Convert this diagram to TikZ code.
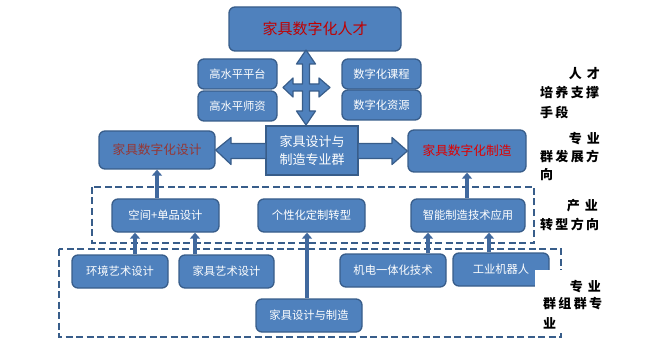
\documentclass[tikz,border=0pt]{standalone}
\usepackage{fontspec}
\setmainfont{Noto Sans CJK SC}
\usetikzlibrary{arrows.meta}
\definecolor{boxfill}{HTML}{4F81BD}
\definecolor{boxline}{HTML}{385D8A}
\definecolor{arrowc}{HTML}{41699E}
\definecolor{titlered}{HTML}{C00000}
\definecolor{designred}{HTML}{953735}
\definecolor{manufred}{HTML}{E00000}
\newcommand{\gp}{\hspace{2.3pt}}
\begin{document}
\begin{tikzpicture}[x=1pt,y=-1pt,
  box/.style={draw=boxline, line width=1.3pt, fill=boxfill, rounded corners=6pt,
    text=white, inner sep=0pt, font=\fontsize{11.3}{13}\selectfont},
  upconn/.style={draw=arrowc, line width=4pt, -{Triangle[width=10pt,length=6pt]}},
  blockarrow/.style={fill=boxfill, draw=boxline, line width=1.2pt, line join=round},
  dashbox/.style={draw=boxline, line width=1.8pt, dash pattern=on 7pt off 3.5pt},
  sidelabel/.style={inner sep=0pt, font=\fontsize{13}{15}\selectfont\bfseries, text=black}
]
\useasboundingbox (0,0) rectangle (668,347);

% dashed group frames
\draw[dashbox] (92,187) rectangle (534,243);
\draw[dashbox] (59,249) rectangle (561,337);

% boxes
\node[box, minimum width=172pt, minimum height=44pt, font=\fontsize{15}{17}\selectfont, text=titlered] (talent) at (315,29) {家具数字化人才};
\node[box, minimum width=79pt, minimum height=30pt] (p1) at (237.5,74) {高水平平台};
\node[box, minimum width=79pt, minimum height=30pt] (p2) at (237.5,106) {高水平师资};
\node[box, minimum width=79pt, minimum height=30pt] (c1) at (381.5,74) {数字化课程};
\node[box, minimum width=79pt, minimum height=30pt] (c2) at (381.5,105) {数字化资源};
\node[box, minimum width=116pt, minimum height=38pt, font=\fontsize{12.7}{15}\selectfont, text=designred] (design) at (157,150) {家具数字化设计};
\node[box, rounded corners=0pt, minimum width=92pt, minimum height=49pt, align=center, font=\fontsize{13}{18}\selectfont] (group) at (312,150.5) {家具设计与\\制造专业群};
\node[box, minimum width=118pt, minimum height=42pt, font=\fontsize{12.7}{15}\selectfont, text=manufred] (manuf) at (467,151) {家具数字化制造};
\node[box, minimum width=107pt, minimum height=33pt] (space) at (165.5,215.5) {空间+单品设计};
\node[box, minimum width=107pt, minimum height=33pt] (custom) at (311.5,215.5) {个性化定制转型};
\node[box, minimum width=114pt, minimum height=33pt] (smart) at (468,215.5) {智能制造技术应用};
\node[box, minimum width=96pt, minimum height=33pt] (env) at (120,271.5) {环境艺术设计};
\node[box, minimum width=95pt, minimum height=33pt] (fart) at (226.5,271.5) {家具艺术设计};
\node[box, minimum width=106pt, minimum height=33pt] (mech) at (393,270.5) {机电一体化技术};
\node[box, minimum width=96pt, minimum height=33pt] (robot) at (501,269.5) {工业机器人};
\node[box, minimum width=106pt, minimum height=33pt] (major) at (309,315.5) {家具设计与制造};

% four-way arrow
\draw[blockarrow]
  (302.5,64) -- (296.5,64) -- (306,50) -- (315.5,64) -- (309.5,64) -- (309.5,84)
  -- (319,84) -- (319,78) -- (330,87.5) -- (319,97) -- (319,91) -- (309.5,91)
  -- (309.5,111) -- (315.5,111) -- (306,125) -- (296.5,111) -- (302.5,111) -- (302.5,91)
  -- (293,91) -- (293,97) -- (283,87.5) -- (293,78) -- (293,84) -- (302.5,84) -- cycle;

% block arrows from the group box
\draw[blockarrow] (group.west |- 0,143.5) -- (231,143.5) -- (231,137.5) -- (design.east) -- (231,164.5) -- (231,158.5) -- (group.west |- 0,158.5);
\draw[blockarrow] (group.east |- 0,143.5) -- (392,143.5) -- (392,137.5) -- (manuf.west |- 0,151) -- (392,164.5) -- (392,158.5) -- (group.east |- 0,158.5);

% upward connectors
\coordinate (xa) at (135,0);
\coordinate (xb) at (195,0);
\coordinate (xc) at (428,0);
\coordinate (xd) at (489,0);
\coordinate (xe) at (307,0);
\draw[upconn] (space.north -| design.south) -- (design.south);
\draw[upconn] (smart.north -| manuf.south) -- (manuf.south);
\draw[upconn] (env.north -| xa) -- (space.south -| xa);
\draw[upconn] (fart.north -| xb) -- (space.south -| xb);
\draw[upconn] (mech.north -| xc) -- (smart.south -| xc);
\draw[upconn] (robot.north -| xd) -- (smart.south -| xd);
\draw[upconn] (major.north -| xe) -- (custom.south -| xe);

% side labels
\node[sidelabel, anchor=east] (l1a) at (600,74) {人\hspace{5pt}才};
\node[sidelabel, anchor=west] (l1b) at (540,93) {培\gp 养\gp 支\gp 撑};
\node[sidelabel, anchor=west] (l1c) at (540,112) {手\gp 段};
\node[sidelabel, anchor=east] (l2a) at (600,139) {专\hspace{5pt}业};
\node[sidelabel, anchor=west] (l2b) at (540,157) {群\gp 发\gp 展\gp 方};
\node[sidelabel, anchor=west] (l2c) at (540,175) {向};
\node[sidelabel, anchor=east] (l3a) at (598,206) {产\hspace{5pt}业};
\node[sidelabel, anchor=west] (l3b) at (540,225) {转\gp 型\gp 方\gp 向};
\fill[white] (535,270) rectangle (612,333);
\node[sidelabel, anchor=east] (l4a) at (601,287) {专\hspace{5pt}业};
\node[sidelabel, anchor=west] (l4b) at (543,304) {群\gp 组\gp 群\gp 专};
\node[sidelabel, anchor=west] (l4c) at (543,323) {业};
\end{tikzpicture}
\end{document}
